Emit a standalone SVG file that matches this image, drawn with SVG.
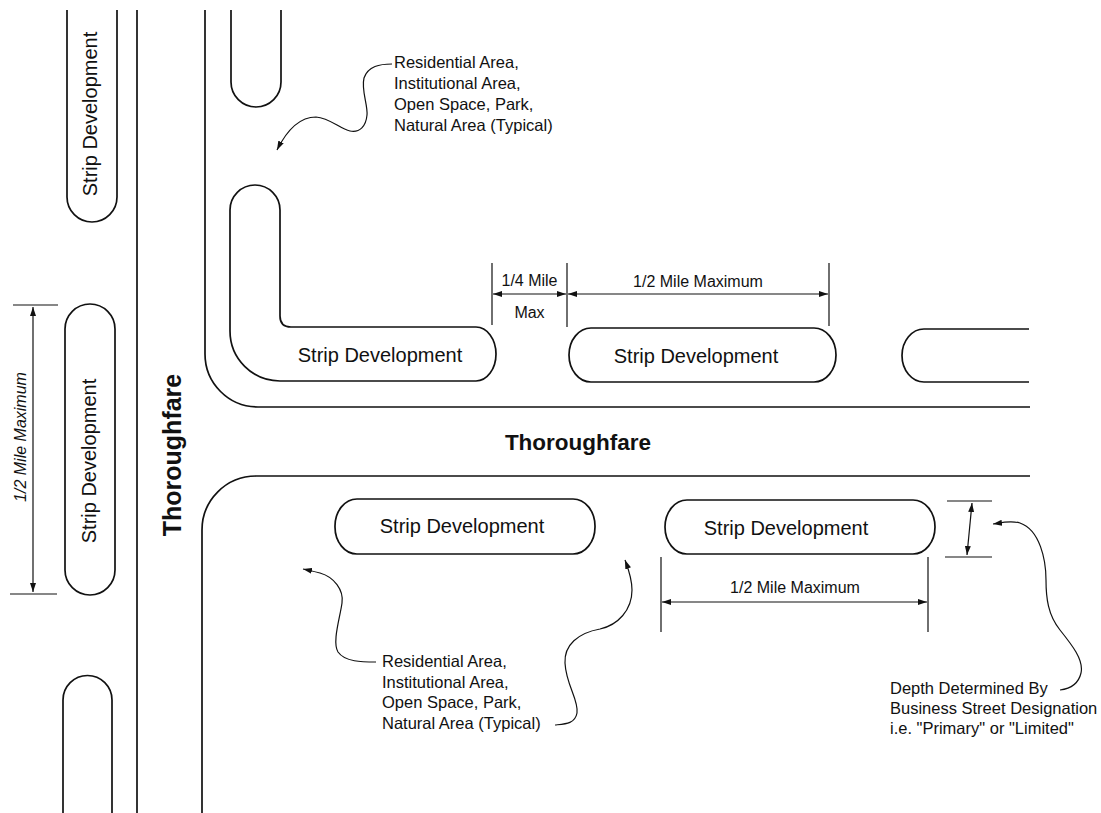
<svg xmlns="http://www.w3.org/2000/svg" width="1101" height="813" viewBox="0 0 1101 813">
<style>
.ln{fill:none;stroke:#111;stroke-width:1.7}
.thin{fill:none;stroke:#111;stroke-width:1.2}
.lab{font-family:"Liberation Sans",Arial,sans-serif;font-size:20px;fill:#111;text-anchor:middle}
.dim{font-family:"Liberation Sans",Arial,sans-serif;font-size:16px;fill:#111;text-anchor:middle}
.note{font-family:"Liberation Sans",Arial,sans-serif;font-size:16.5px;fill:#111}
.road{font-family:"Liberation Sans",Arial,sans-serif;font-weight:bold;fill:#111;text-anchor:middle}
</style>
<defs>
<marker id="ah" viewBox="0 0 10 10" refX="10" refY="5" markerWidth="9" markerHeight="6" markerUnits="userSpaceOnUse" preserveAspectRatio="none" orient="auto-start-reverse">
<path d="M0,0 L10,5 L0,10 z" fill="#111"/>
</marker>
</defs>
<rect width="1101" height="813" fill="#fff"/>

<g id="roads">
<path class="ln" d="M137,10 V813"/>
<path class="ln" d="M205,10 V354 A53,53 0 0 0 258,407 H1030"/>
<path class="ln" d="M1030,476 H256 A54,54 0 0 0 202,530 V813"/>
<text class="road" font-size="22.5" x="578" y="450">Thoroughfare</text>
<text class="road" font-size="25" transform="translate(181,455) rotate(-90)">Thoroughfare</text>
</g>

<g id="strip-left-top">
<path class="ln" d="M67,10 V197 A25,25 0 0 0 117,197 V10"/>
<text class="lab" font-size="21.5" transform="translate(97,114) rotate(-90)">Strip Development</text>
</g>
<g id="strip-left-mid">
<rect class="ln" x="65" y="304" width="50" height="291" rx="25" ry="25"/>
<text class="lab" font-size="21.5" transform="translate(96,461) rotate(-90)">Strip Development</text>
</g>
<g id="strip-left-bottom">
<path class="ln" d="M63,813 V700 A24.5,24.5 0 0 1 112,700 V813"/>
</g>
<g id="strip-top-u">
<path class="ln" d="M231,10 V82 A25,25 0 0 0 281,82 V10"/>
</g>
<g id="strip-corner">
<path class="ln" d="M230,210 A25,25 0 0 1 280,210 V316 Q280,327 291,327 H476 A20,27 0 0 1 476,381 H280 A50,50 0 0 1 230,331 Z"/>
<text class="lab" x="380" y="362">Strip Development</text>
</g>
<g id="strip-top-2">
<rect class="ln" x="569" y="328" width="267" height="54" rx="22" ry="27"/>
<text class="lab" x="696" y="363">Strip Development</text>
</g>
<g id="strip-top-right">
<path class="ln" d="M1029,329 H924 A22,26.5 0 0 0 924,382 H1029"/>
</g>
<g id="strip-bottom-1">
<rect class="ln" x="335" y="499" width="260" height="55" rx="22" ry="27"/>
<text class="lab" x="462" y="533">Strip Development</text>
</g>
<g id="strip-bottom-2">
<rect class="ln" x="665" y="500" width="270" height="54" rx="22" ry="27"/>
<text class="lab" x="786" y="535">Strip Development</text>
</g>

<g id="dimensions">
<path class="thin" d="M13,305 H58 M10,594 H57"/>
<path class="thin" d="M33,307 V592" marker-start="url(#ah)" marker-end="url(#ah)"/>
<text class="dim" font-size="17.5" font-style="italic" transform="translate(26,437) rotate(-90)">1/2 Mile Maximum</text>

<path class="thin" d="M492,263 V325 M567,263 V327 M829,263 V326"/>
<path class="thin" d="M493,294 H566" marker-start="url(#ah)" marker-end="url(#ah)"/>
<path class="thin" d="M568,294 H828" marker-start="url(#ah)" marker-end="url(#ah)"/>
<text class="dim" x="529.5" y="286">1/4 Mile</text>
<text class="dim" x="529.5" y="318">Max</text>
<text class="dim" x="698" y="287">1/2 Mile Maximum</text>

<path class="thin" d="M661,557 V632 M928,557 V632"/>
<path class="thin" d="M662,602 H927" marker-start="url(#ah)" marker-end="url(#ah)"/>
<text class="dim" x="795" y="593">1/2 Mile Maximum</text>

<path class="thin" d="M947,501 H992 M945,557 H992" stroke="#555"/>
<path class="thin" d="M972,503 L967,555" marker-start="url(#ah)" marker-end="url(#ah)"/>
</g>

<g id="leaders">
<path class="thin" d="M392,64 C380,64 368,66 364,78 C361,90 368,105 367,115 C366,126 360,133 350,131 C340,129 330,118 316,117 C300,117 288,128 277,150" marker-end="url(#ah)"/>
<path class="thin" d="M376,662 C362,662 345,662 338,652 C332,642 340,618 342,603 C344,590 334,577 320,573 C312,571 308,570 303,569" marker-end="url(#ah)"/>
<path class="thin" d="M555,725 C565,724 575,724 577,713 C579,700 566,685 565,663 C564,645 578,633 600,629 C618,625 632,610 632,590 C632,578 628,568 625,560" marker-end="url(#ah)"/>
<path class="thin" d="M1060,690 C1068,689 1078,686 1081,673 C1084,660 1072,645 1060,630 C1048,615 1046,598 1046,580 C1046,560 1040,530 1020,523 C1010,520 1000,523 993,524" marker-end="url(#ah)"/>
</g>

<g id="note-top">
<text class="note" x="394" y="68">Residential Area,</text>
<text class="note" x="394" y="89">Institutional Area,</text>
<text class="note" x="394" y="110">Open Space, Park,</text>
<text class="note" x="394" y="131">Natural Area (Typical)</text>
</g>
<g id="note-bottom">
<text class="note" x="382" y="667">Residential Area,</text>
<text class="note" x="382" y="688">Institutional Area,</text>
<text class="note" x="382" y="708">Open Space, Park,</text>
<text class="note" x="382" y="729">Natural Area (Typical)</text>
</g>
<g id="note-depth">
<text class="note" x="890" y="694">Depth Determined By</text>
<text class="note" x="890" y="714">Business Street Designation</text>
<text class="note" x="890" y="734">i.e. "Primary" or "Limited"</text>
</g>
</svg>
